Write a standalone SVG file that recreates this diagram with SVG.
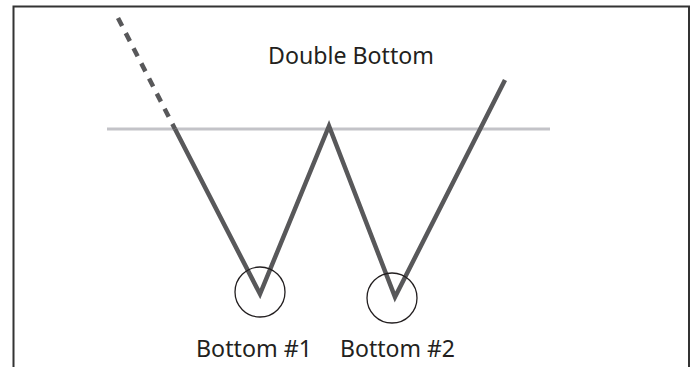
<svg xmlns="http://www.w3.org/2000/svg" width="694" height="367" viewBox="0 0 694 367">
<style>
.lbl{font-family:"Noto Sans","Open Sans",sans-serif;font-size:24px;fill:#231f20}
.price{fill:none;stroke:#58585a;stroke-width:4.5;stroke-linejoin:miter}
.ring{fill:none;stroke:#231f20;stroke-width:1.3}
</style>
<rect width="694" height="367" fill="#fff"/>
<path d="M13.5,367 V6.5 H689 V367" fill="none" stroke="#333" stroke-width="2"/>
<g id="resistance"><line x1="107" y1="129" x2="550" y2="129" stroke="#c3c3c8" stroke-width="3"/></g>
<g id="connectors">
<line x1="118" y1="18" x2="175" y2="129" class="price" stroke-dasharray="9,8"/>
<polyline class="price" points="175,129 260,294 329,126 395,297 505,80"/>
</g>
<g id="bottom1"><circle class="ring" cx="260" cy="292" r="25"/></g>
<g id="bottom2"><circle class="ring" cx="392" cy="298" r="25"/></g>
<g id="title"><text class="lbl" x="268" y="64" textLength="166" lengthAdjust="spacingAndGlyphs">Double Bottom</text></g>
<g id="label1"><text class="lbl" x="196" y="357" textLength="116" lengthAdjust="spacingAndGlyphs">Bottom #1</text></g>
<g id="label2"><text class="lbl" x="340" y="357" textLength="115" lengthAdjust="spacingAndGlyphs">Bottom #2</text></g>
</svg>
